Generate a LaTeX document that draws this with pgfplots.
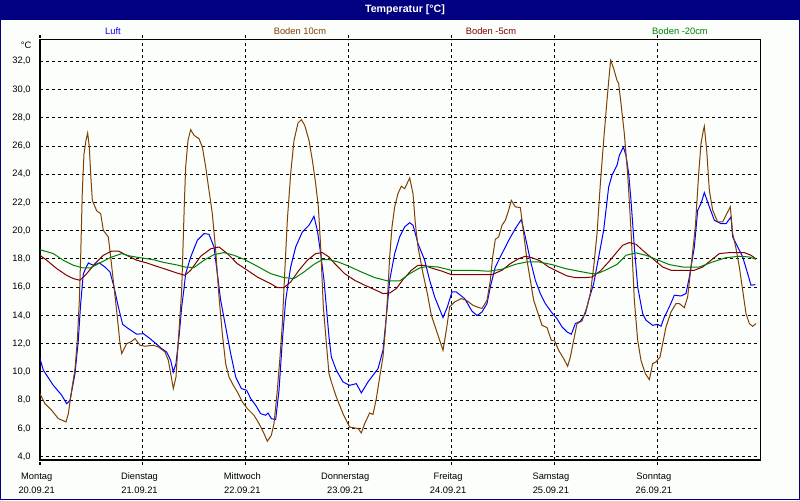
\documentclass[border=0pt]{standalone}
\usepackage{pgfplots}
\pgfplotsset{compat=1.18}
\usepackage{fontspec}
\setmainfont{Liberation Sans}
\definecolor{navy}{RGB}{0,0,128}
\definecolor{luft}{RGB}{0,0,255}
\definecolor{bzehn}{RGB}{128,64,0}
\definecolor{bfuenf}{RGB}{128,0,0}
\definecolor{bzwanzig}{RGB}{0,128,0}
\definecolor{bg}{RGB}{252,254,252}
\begin{document}
\begin{tikzpicture}
\path[use as bounding box, fill=bg] (-30pt,-30pt) rectangle (570pt,345pt);
\fill[navy] (-30pt,330pt) rectangle (570pt,345pt);
\node[text=white, font=\fontsize{8pt}{9pt}\selectfont\bfseries] at (273.75pt,337.5pt) {Temperatur [°C]};
\draw[navy, line width=0.75pt] (-29.6pt,330pt) -- (-29.6pt,-29.6pt) -- (569.6pt,-29.6pt) -- (569.6pt,330pt);
\begin{axis}[
  at={(0,0)}, anchor=south west,
  scale only axis, width=540pt, height=315pt,
  xmin=0, xmax=168, ymin=3.76, ymax=33.51,
  axis line style={black, line width=0.75pt},
  xtick={0,24,48,72,96,120,144},
  xticklabels={{Montag\\20.09.21},{Dienstag\\21.09.21},{Mittwoch\\22.09.21},{Donnerstag\\23.09.21},{Freitag\\24.09.21},{Samstag\\25.09.21},{Sonntag\\26.09.21}},
  ytick={4,6,...,32},
  grid=major,
  major grid style={black, line width=0.75pt, dash pattern=on 2.25pt off 2.25pt},
  tick align=outside,
  major tick length=3.5pt,
  xtick style={black, line width=0.75pt, dash pattern=on 2.25pt off 2.25pt},
  ytick style={draw=none},
  xticklabel style={align=center, font=\fontsize{7pt}{10.7pt}\selectfont, xshift=-2.5pt, yshift=-2.5pt},
  yticklabel style={font=\fontsize{7pt}{8.4pt}\selectfont, /pgf/number format/.cd, fixed, fixed zerofill, precision=1, use comma, assume math mode=true},
  every axis plot/.append style={line width=0.75pt, mark=none},
  axis background/.style={fill=bg},
]
% Luft
\addplot[luft] coordinates {
(0,10.94) (0.78,10.12) (3.11,9.05) (5.06,8.35) (6.22,7.75) (7.0,7.99) (8.17,9.88) (8.94,12.24) (9.49,14.84) (10.11,16.96) (11.28,17.72) (12.44,17.55) (13.84,17.72) (15.17,17.43) (16.33,17.08) (17.27,16.02) (18.28,14.60) (19.29,13.37) (20.61,13.07) (22.56,12.67) (24.11,12.71) (25.67,12.36) (27.22,11.96) (28.39,11.65) (29.56,11.41) (30.49,10.82) (31.11,9.99) (31.73,10.59) (32.51,12.71) (33.06,14.60) (33.6,15.9)
(33.99,16.96) (35.16,18.14) (36.71,19.32) (38.27,19.80) (39.43,19.75) (40.6,18.85) (41.38,16.96) (42.16,15.07) (43.32,13.19) (44.49,11.30) (45.66,9.64) (46.98,8.82) (48.22,8.70) (49.16,8.11) (50.32,7.64) (51.49,7.04) (52.66,6.93) (53.2,7.09) (53.98,6.69) (54.99,6.62) (55.77,8.70) (56.55,12.24) (57.32,15.07) (58.49,17.43) (59.66,18.85) (61.21,19.91) (62.77,20.39) (63.93,21.02) (64.71,20.03) (65.49,18.38) (66.27,16.49) (67.43,12.48)
(67.98,11.06) (69.14,10.12) (70.7,9.29) (72.26,9.05) (73.81,9.17) (74.98,8.51) (76.53,9.29) (78.87,10.23) (80.03,11.53) (80.81,13.89) (81.59,16.49) (82.76,18.38) (83.92,19.56) (85.09,20.27) (86.26,20.57) (87.03,20.39) (87.58,19.80) (88.2,19.09) (89.76,17.91) (90.92,16.49) (92.09,15.31) (94.03,13.85) (95.05,14.60) (96.13,15.66) (97.15,15.66) (99.09,15.19) (100.8,14.3)
(101.97,13.99) (103.13,14.24) (104.3,14.84) (105.08,16.02) (106.24,17.43) (107.8,18.38) (109.36,19.32) (110.91,20.15) (112.31,20.79) (113.24,19.56) (114.41,17.91) (115.58,16.49) (116.74,15.55) (117.91,14.84) (119.31,14.24) (120.63,13.77) (121.8,13.19) (122.97,12.83) (123.98,12.67) (124.91,13.42) (126.08,13.59) (127.25,14.13) (128.02,15.07) (129.19,16.25) (130.36,18.14) (131.52,20.03) (132.69,23.10) (133.47,23.93) (134.63,24.63)
(135.18,25.34) (136.11,25.93) (136.73,25.34) (137.36,24.04) (137.9,22.15) (138.68,18.85) (139.46,16.02) (140.62,14.13) (141.4,13.66) (142.96,13.30) (144.12,13.37) (144.9,13.23) (145.68,13.89) (146.84,14.60) (148.01,15.43) (149.57,15.38) (150.73,15.55) (151.51,16.72) (152.68,18.85) (153.46,21.45) (154.23,21.92) (155.01,22.70) (156.18,21.69) (157.35,20.74) (158.9,20.50) (160.07,20.50) (161.23,20.98) (161.62,19.56) (162.79,18.85) (163.96,18.14) (165.12,16.96) (165.9,16.14) (166.91,16.18)
};
% Boden 10cm
\addplot[bzehn] coordinates {
(0,8.46) (1.17,7.75) (2.72,7.28) (4.28,6.69) (6.07,6.46) (6.61,7.04) (7.39,8.70) (8.17,10.23) (8.71,12.24) (9.18,15.07) (9.49,18.14) (9.88,22.86) (10.27,25.46) (10.73,26.40) (11.12,26.92) (11.51,25.93) (11.82,24.04) (12.21,22.15) (13.22,21.41) (14.16,21.21) (14.78,20.03) (15.94,19.56) (16.49,18.14) (17.27,16.02) (18.04,13.89) (18.67,12.00) (19.06,11.30) (20.22,12.00) (21.16,12.12) (22.17,12.36) (23.33,11.89) (24.5,11.82) (26.45,11.89) (27.61,11.77) (29.17,11.41) (29.95,10.82) (30.49,9.88) (31.11,8.82) (31.73,9.64) (32.28,12.24) (33.06,15.78) (33.68,21.92)
(33.99,24.52) (34.53,26.40) (35.16,27.16) (35.93,26.76) (37.1,26.52) (37.88,25.93) (38.66,24.52) (39.43,22.86) (40.21,21.21) (40.99,18.61) (41.77,15.31) (42.54,12.71) (43.32,10.59) (44.1,9.64) (45.11,9.05) (46.04,8.58) (47.21,7.87) (48.38,7.40) (49.93,6.93) (51.1,6.34) (52.27,5.63) (53.04,5.09) (53.98,5.51) (54.6,6.34) (55.38,8.70) (56.0,11.06) (56.55,13.42) (57.09,16.96) (57.71,20.74) (58.49,24.04) (59.27,26.40) (60.2,27.63) (60.98,27.87) (61.76,27.47) (62.77,26.40) (63.55,24.99) (64.32,23.34) (64.95,21.69) (65.49,18.85) (66.11,14.60) (66.89,11.77) (67.43,9.88)
(67.98,9.29) (69.14,8.23) (70.7,7.04) (72.26,6.09) (74.2,5.99) (74.98,5.68) (75.76,6.34) (76.92,7.09) (77.7,6.99) (78.48,8.11) (79.26,9.64) (80.03,11.06) (80.58,12.95) (81.04,15.07) (81.59,18.14) (82.13,20.27) (82.76,21.69) (83.53,22.63) (84.31,23.15) (85.09,22.98) (86.26,23.74) (87.03,22.63) (87.58,20.50) (88.2,18.85) (89.37,16.96) (90.38,15.55) (91.31,14.01) (92.48,12.95) (93.26,12.24) (94.03,11.53) (94.81,12.95) (95.59,14.60) (96.76,14.96) (98.31,15.19) (99.48,15.07) (101.03,14.72)
(101.97,14.60) (103.13,14.49) (104.3,15.07) (105.08,16.49) (105.62,18.14) (106.24,19.39) (107.02,19.56) (107.8,20.39) (108.58,20.74) (109.36,21.45) (109.98,22.15) (110.91,21.69) (112.08,21.64) (112.86,19.80) (113.63,17.91) (114.41,16.49) (115.19,15.07) (116.36,14.01) (117.13,13.30) (118.3,13.14) (119.31,12.24) (120.09,12.19) (121.02,11.53) (122.19,10.94) (123.12,10.40) (123.75,11.06) (124.52,12.24) (125.3,13.42) (126.47,13.61) (127.63,14.60) (128.41,15.55) (129.19,17.43) (129.97,19.80) (130.75,23.34) (131.52,26.40) (132.3,29.24) (132.85,31.13) (133.16,32.07) (133.86,31.48) (134.63,30.65)
(135.02,30.42) (135.57,29.00) (136.34,26.88) (137.12,24.04) (137.9,20.03) (138.68,15.07) (139.46,12.24) (140.23,10.82) (141.24,9.88) (142.18,9.45) (142.96,10.59) (143.73,10.71) (144.67,11.06) (145.29,12.00) (146.07,13.19) (147.23,14.24) (148.4,14.84) (149.18,14.84) (150.34,14.55) (151.12,15.31) (151.9,17.43) (152.91,20.27) (153.69,24.04) (154.23,26.16) (154.78,27.11) (155.01,27.40) (155.56,25.70) (156.18,22.86) (156.96,21.45) (158.12,20.62) (159.29,20.62) (160.46,21.33) (161.08,21.69) (161.62,19.80) (162.4,18.75) (163.18,17.43) (163.96,15.78) (164.73,14.13) (165.51,13.42) (166.29,13.23) (167.07,13.42)
};
% Boden -5cm
\addplot[bfuenf] coordinates {
(0,18.26) (1.56,17.91) (3.89,17.32) (6.22,16.84) (7.78,16.61) (9.33,16.49) (10.89,16.96) (12.83,17.67) (14.78,18.26) (16.72,18.56) (18.28,18.56) (20.22,18.26) (22.56,17.91) (24.89,17.72) (27.22,17.48) (29.56,17.25) (31.89,17.01) (33.83,16.84)
(35.16,17.20) (37.49,18.19) (39.82,18.72) (41.77,18.85) (43.71,18.38) (46.04,17.67) (48.38,17.20) (50.71,16.72) (53.82,16.25) (55.38,15.97) (56.93,15.97) (58.49,16.37) (60.43,17.20) (62.38,17.91) (64.32,18.38) (65.88,18.45) (67.43,18.14)
(68.76,17.67) (71.09,16.96) (73.42,16.49) (75.76,16.14) (78.09,15.83) (80.03,15.55) (81.59,15.59) (83.14,15.90) (84.7,16.54) (86.65,17.20) (88.2,17.55) (89.76,17.55) (91.31,17.36) (93.65,17.15) (95.98,16.89)
(100.8,16.89) (105.47,16.89) (107.8,17.20) (109.74,17.67) (111.69,18.02) (113.24,18.19) (114.8,18.09) (116.74,17.86) (118.69,17.43) (121.02,17.08) (122.97,16.80) (124.91,16.68) (127.25,16.68) (128.8,16.72) (130.75,17.15) (132.69,17.79) (134.63,18.50)
(135.96,18.97) (137.51,19.16) (139.07,19.04) (140.62,18.61) (142.96,18.02) (145.29,17.43) (147.23,17.20) (152.68,17.20) (154.62,17.43) (156.57,17.91) (158.51,18.38) (160.85,18.45) (164.35,18.45) (165.9,18.26) (167.07,18.00)
};
% Boden -20cm
\addplot[bzwanzig] coordinates {
(0,18.66) (3.11,18.38) (5.44,17.91) (7.78,17.55) (10.11,17.36) (11.67,17.36) (14.0,17.72) (16.33,18.09) (19.06,18.38) (21.0,18.21) (23.33,18.09) (26.45,17.95) (28.78,17.76) (31.89,17.58) (33.83,17.43)
(35.93,17.39) (38.27,17.91) (40.6,18.31) (42.93,18.45) (45.27,18.26) (47.6,17.98) (50.71,17.48) (53.82,16.96) (56.93,16.68) (59.27,16.61) (61.6,17.08) (63.93,17.62) (65.88,17.95) (67.43,17.95)
(69.53,17.79) (71.87,17.51) (74.98,17.08) (78.09,16.68) (81.2,16.44) (83.92,16.44) (86.26,16.96) (88.59,17.36) (90.53,17.48) (92.87,17.43) (95.98,17.20)
(100.8,17.20) (104.69,17.13) (107.8,17.27) (110.91,17.62) (113.63,17.79) (116.36,17.79) (119.47,17.60) (122.58,17.32) (125.69,17.13) (128.8,16.96) (129.97,16.96) (131.91,17.20) (134.63,17.62)
(136.73,18.26) (139.07,18.43) (141.4,18.26) (143.73,17.98) (146.84,17.60) (149.96,17.43) (153.85,17.43) (156.96,17.79) (160.07,18.09) (163.18,18.19) (165.51,18.14) (167.07,17.98)
};
\end{axis}
\node[font=\fontsize{7pt}{8.4pt}\selectfont, anchor=east] at (-3pt,311.25pt) {°C};
\node[font=\fontsize{7pt}{8.4pt}\selectfont, text=luft] at (54.75pt,321.75pt) {Luft};
\node[font=\fontsize{7pt}{8.4pt}\selectfont, text=bzehn] at (195pt,321.75pt) {Boden 10cm};
\node[font=\fontsize{7pt}{8.4pt}\selectfont, text=bfuenf] at (338.25pt,321.75pt) {Boden -5cm};
\node[font=\fontsize{7pt}{8.4pt}\selectfont, text=bzwanzig] at (480pt,321.75pt) {Boden -20cm};
\end{tikzpicture}
\end{document}
